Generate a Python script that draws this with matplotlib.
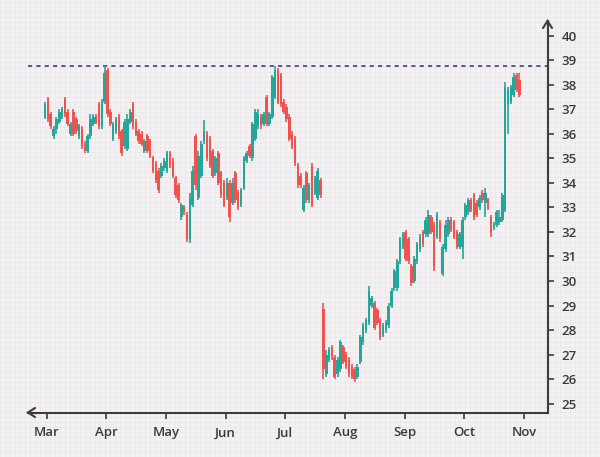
import numpy as np
import matplotlib
matplotlib.use("Agg")
import matplotlib.pyplot as plt

# dados OHLC (um candle por pregão, ~21 por mês)
opens = [36.7, 37.4, 36.8, 35.9, 36.2, 36.5, 36.7, 37.4, 36.9, 36.0,
         36.9, 36.6, 35.9, 36.2, 35.6, 35.3, 35.9, 36.4, 36.7, 37.2,
         36.3, 37.3, 38.6, 36.9, 35.8, 36.1, 36.7, 36.1, 35.5, 35.4,
         36.5, 37.2, 36.5, 36.1, 36.0, 35.3, 35.9, 35.7, 35.0, 34.8,
         34.5, 34.3, 34.6, 34.5, 35.2, 34.9, 34.2, 33.9, 32.6, 33.0,
         32.7, 31.7, 33.1, 35.9, 33.4, 34.3, 35.7, 36.0, 35.8, 35.3,
         34.4, 35.2, 34.4, 34.0, 33.4, 34.0, 33.2, 34.4, 33.6, 33.1,
         33.8, 34.9, 35.5, 35.0, 35.8, 36.3, 36.7, 36.4, 37.5, 36.4,
         36.7, 37.5, 38.6, 38.4, 37.3, 37.1, 36.7, 36.0, 35.8, 34.7,
         34.3, 32.9, 34.4, 33.3, 34.7, 33.6, 33.4, 34.1, 28.85, 26.2,
         26.8, 27.3, 26.9, 26.2, 26.4, 27.3, 27.0, 26.8, 26.5, 26.4,
         26.1, 26.7, 27.5, 28.0, 28.3, 29.0, 29.1, 28.8, 28.4, 27.8,
         28.0, 28.2, 29.0, 29.7, 29.7, 30.8, 31.4, 32.0, 31.7, 30.6,
         30.0, 30.8, 31.3, 32.0, 31.9, 31.9, 32.6, 32.3, 31.8, 32.4,
         30.3, 31.3, 31.9, 32.5, 32.4, 32.0, 31.4, 31.4, 32.6, 32.8,
         33.3, 33.5, 33.2, 33.0, 33.6, 33.2, 33.3, 32.6, 32.2, 32.3,
         32.4, 32.5, 32.9, 37.2, 37.3, 37.6, 38.4, 38.2]
highs = [37.3, 37.5, 36.9, 36.3, 36.7, 37.0, 37.1, 37.5, 37.0, 36.5,
         37.0, 36.7, 36.4, 36.3, 35.7, 36.0, 36.8, 36.8, 36.8, 37.3,
         37.4, 38.75, 38.7, 37.0, 36.5, 36.7, 36.8, 36.2, 36.6, 36.8,
         37.0, 37.3, 36.6, 36.2, 36.1, 35.8, 36.0, 35.8, 35.1, 34.9,
         34.6, 34.8, 35.0, 35.3, 35.3, 35.0, 34.3, 34.0, 33.2, 33.1,
         32.8, 33.6, 34.7, 36.0, 35.3, 35.7, 36.55, 36.1, 35.9, 35.4,
         35.1, 35.3, 34.5, 34.1, 34.2, 34.1, 34.2, 34.5, 33.7, 33.8,
         35.1, 35.3, 35.6, 36.5, 37.0, 37.0, 36.8, 36.9, 37.6, 36.9,
         38.4, 38.75, 38.7, 38.5, 37.4, 37.2, 36.8, 36.1, 35.9, 34.8,
         34.4, 33.9, 34.5, 34.0, 34.8, 34.3, 34.6, 34.2, 29.1, 27.2,
         27.3, 27.4, 27.0, 26.9, 27.6, 27.4, 27.1, 26.9, 26.6, 26.5,
         26.6, 27.8, 28.3, 28.5, 29.8, 29.4, 29.2, 28.9, 28.5, 28.3,
         28.4, 29.1, 29.7, 30.5, 30.9, 31.8, 32.0, 32.1, 31.8, 30.7,
         31.0, 31.6, 31.9, 32.1, 32.6, 32.9, 32.7, 32.4, 32.8, 32.5,
         31.5, 32.5, 32.6, 32.6, 32.5, 32.1, 32.0, 32.6, 33.2, 33.4,
         33.4, 33.6, 33.3, 33.5, 33.7, 33.8, 33.4, 32.7, 32.4, 32.9,
         32.9, 33.6, 38.1, 37.9, 38.0, 38.5, 38.5, 38.5]
lows = [36.6, 36.5, 36.2, 35.8, 36.0, 36.4, 36.6, 36.7, 36.3, 35.9,
        35.9, 36.0, 35.8, 35.4, 35.2, 35.2, 35.8, 36.3, 36.4, 36.2,
        36.2, 37.2, 36.7, 36.3, 35.7, 36.0, 35.8, 35.1, 35.4, 35.3,
        36.4, 36.2, 35.9, 35.6, 35.5, 35.2, 35.2, 35.0, 34.4, 34.0,
        33.6, 34.2, 34.5, 34.4, 34.6, 34.2, 33.4, 33.2, 32.5, 32.7,
        31.6, 31.55, 33.0, 33.7, 33.3, 34.2, 35.6, 34.9, 34.6, 34.2,
        34.3, 33.9, 33.4, 33.0, 33.3, 32.4, 33.1, 33.2, 32.9, 33.0,
        33.7, 34.8, 35.0, 34.9, 35.7, 36.2, 36.2, 36.3, 36.3, 36.3,
        36.6, 37.4, 37.2, 37.1, 36.8, 36.5, 35.7, 35.4, 34.7, 33.8,
        33.8, 32.8, 33.2, 33.2, 33.0, 33.5, 33.3, 33.4, 26.0, 26.1,
        26.7, 26.8, 26.0, 26.1, 26.3, 26.6, 26.4, 26.1, 26.0, 25.9,
        26.0, 26.6, 27.4, 27.9, 28.2, 28.9, 28.0, 28.2, 27.6, 27.7,
        27.9, 28.1, 28.9, 29.6, 29.6, 30.7, 31.3, 30.8, 30.7, 29.8,
        29.9, 30.7, 31.2, 31.4, 31.8, 31.8, 31.9, 30.4, 31.7, 31.6,
        30.2, 31.2, 31.8, 32.0, 31.7, 31.3, 31.3, 30.9, 32.5, 32.7,
        32.8, 32.5, 32.6, 32.9, 33.2, 32.6, 32.9, 31.8, 32.1, 32.2,
        32.3, 32.4, 32.8, 36.0, 37.2, 37.5, 37.7, 37.5]
closes = [37.2, 36.6, 36.3, 36.2, 36.6, 36.9, 37.0, 36.8, 36.4, 36.4,
          36.0, 36.1, 36.3, 35.5, 35.3, 35.9, 36.6, 36.7, 36.5, 36.3,
          37.3, 38.5, 36.8, 36.4, 36.4, 36.6, 35.9, 35.2, 36.5, 36.6,
          36.9, 36.3, 36.0, 35.7, 35.6, 35.7, 35.3, 35.1, 34.5, 34.1,
          33.7, 34.7, 34.9, 35.2, 34.7, 34.3, 33.5, 33.3, 33.1, 32.8,
          31.7, 33.4, 34.5, 33.9, 35.1, 35.6, 36.1, 35.0, 34.7, 34.3,
          35.0, 34.0, 33.5, 33.1, 34.0, 32.6, 34.0, 33.3, 33.0, 33.7,
          35.0, 35.2, 35.1, 36.4, 36.9, 36.8, 36.3, 36.8, 36.4, 36.8,
          38.3, 38.6, 37.3, 37.2, 36.9, 36.6, 35.8, 35.5, 34.8, 33.9,
          33.9, 33.8, 33.3, 33.9, 33.1, 34.2, 34.5, 33.5, 26.4, 27.0,
          27.2, 26.9, 26.1, 26.8, 27.5, 26.7, 26.5, 26.2, 26.1, 26.0,
          26.5, 27.7, 28.2, 28.4, 29.6, 29.3, 28.1, 28.3, 27.7, 28.2,
          28.3, 29.0, 29.6, 30.4, 30.8, 31.7, 31.9, 30.9, 30.8, 29.9,
          30.9, 31.5, 31.8, 31.5, 32.5, 32.7, 32.0, 30.6, 32.7, 31.7,
          31.4, 32.3, 32.5, 32.1, 31.8, 31.4, 31.9, 32.5, 33.1, 33.3,
          32.9, 32.6, 32.7, 33.4, 33.3, 33.6, 33.0, 32.0, 32.3, 32.8,
          32.6, 33.5, 37.9, 37.8, 37.9, 38.3, 37.8, 37.6]
meses = ["Mar", "Apr", "May", "Jun", "Jul", "Aug", "Sep", "Oct", "Nov"]
yticks = list(range(25, 41))

cor_alta = "#26a69a"
cor_baixa = "#ef5350"
cor_eixo = "#3c3c3c"
fundo = "#f4f1f3"

fig = plt.figure(figsize=(6, 4.57), dpi=100)
fig.patch.set_facecolor(fundo)

# papel quadriculado no fundo da figura inteira
bg = fig.add_axes([0, 0, 1, 1], zorder=-5)
bg.set_xlim(0, 600)
bg.set_ylim(0, 457)
bg.axis("off")
for gx in np.arange(0, 601, 5):
    bg.axvline(gx, color="#ebe5ea", lw=0.5)
for gy in np.arange(0, 458, 5):
    bg.axhline(gy, color="#ebe5ea", lw=0.5)

ax = fig.add_axes([28 / 600, 44.5 / 457, 519.5 / 600, 391.5 / 457])
ax.set_facecolor("none")

o = np.array(opens)
h = np.array(highs)
l = np.array(lows)
c = np.array(closes)
x = np.arange(len(c))
sobe = c >= o
cores = np.where(sobe, cor_alta, cor_baixa)

ax.vlines(x, l, h, colors=cores, lw=1.2, zorder=3)
ax.bar(x, np.abs(c - o), bottom=np.minimum(o, c), width=0.9,
       color=cores, linewidth=0, zorder=4)

# linha da máxima
ax.axhline(h.max(), color="#3b3f7a", lw=1.2, ls=(0, (2.5, 2.5)), zorder=2)

ax.set_xlim(-6, 176.9)
ax.set_ylim(24.64, 40.6)

for s in ["left", "top"]:
    ax.spines[s].set_visible(False)
for s in ["right", "bottom"]:
    ax.spines[s].set_color(cor_eixo)
    ax.spines[s].set_linewidth(1.5)

ax.yaxis.tick_right()
ax.set_yticks(yticks)
ax.set_xticks([21 * k + 0.6 for k in range(len(meses))])
ax.set_xticklabels(meses)
ax.tick_params(colors=cor_eixo, labelcolor="#3a3a3a", labelsize=9.5,
               width=1.2, length=4)
ax.tick_params(axis="y", pad=6)
ax.tick_params(axis="x", pad=6)
for t in ax.get_xticklabels() + ax.get_yticklabels():
    t.set_fontfamily(["Open Sans", "DejaVu Sans"])
    t.set_fontweight("semibold")

# setas nas pontas dos eixos
w_px, h_px = 519.5, 391.5
ax.plot([1 - 4.5 / w_px, 1, 1 + 4.5 / w_px], [1 - 7 / h_px, 1, 1 - 7 / h_px],
        transform=ax.transAxes, color=cor_eixo, lw=1.5, clip_on=False,
        solid_capstyle="round", solid_joinstyle="miter")
ax.plot([7 / w_px, 0, 7 / w_px], [-4.5 / h_px, 0, 4.5 / h_px],
        transform=ax.transAxes, color=cor_eixo, lw=1.5, clip_on=False,
        solid_capstyle="round", solid_joinstyle="miter")

fig.savefig("out.png", dpi=100, facecolor=fundo)
